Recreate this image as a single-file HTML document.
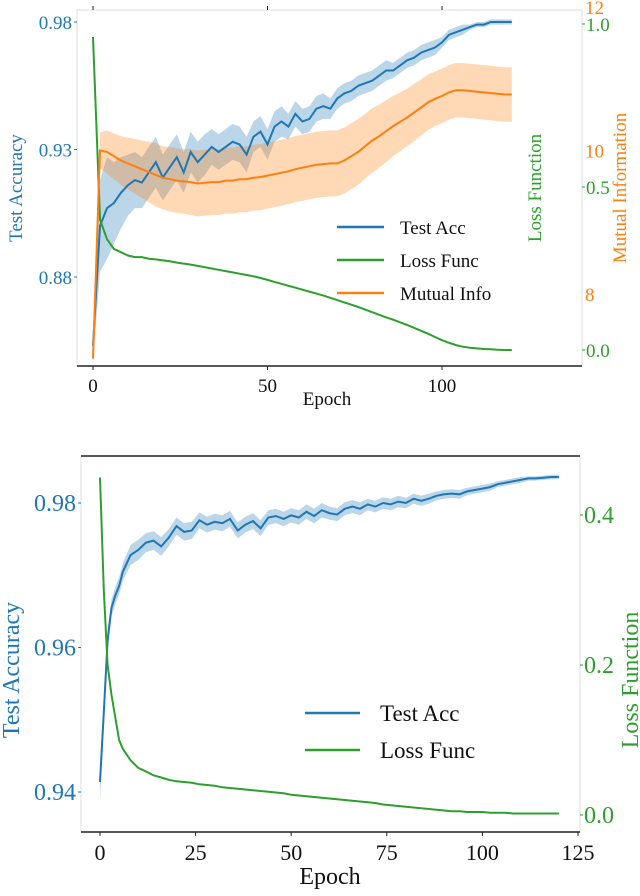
<!DOCTYPE html>
<html><head><meta charset="utf-8"><style>
body{margin:0;background:#fff;}
svg, svg text{font-family:"Liberation Serif",serif;}
</style></head><body>
<svg width="640" height="891" viewBox="0 0 640 891" font-family="Liberation Serif, serif">
<g id="top"></g>
<g id="bot"></g>
</svg>
<script>
// ---------- Top chart data ----------
const topEpochs = [0,2,4,6,8,10,12,14,16,18,20,22,24,26,28,30,32,34,36,38,40,42,44,46,48,50,52,54,56,58,60,62,64,66,68,70,72,74,76,78,80,82,84,86,88,90,92,94,96,98,100,102,104,106,108,110,112,114,116,118,120];
const topAcc = [0.853,0.900,0.907,0.909,0.913,0.916,0.918,0.917,0.921,0.925,0.919,0.923,0.927,0.921,0.929,0.925,0.928,0.931,0.929,0.931,0.933,0.932,0.928,0.935,0.937,0.932,0.939,0.941,0.939,0.944,0.941,0.942,0.946,0.947,0.946,0.950,0.952,0.953,0.955,0.956,0.957,0.959,0.961,0.961,0.963,0.965,0.966,0.968,0.969,0.970,0.972,0.975,0.976,0.977,0.978,0.979,0.979,0.980,0.980,0.980,0.980];
const topAccErr = [0.006,0.018,0.020,0.016,0.014,0.012,0.011,0.010,0.010,0.010,0.009,0.009,0.009,0.008,0.008,0.008,0.008,0.007,0.007,0.007,0.007,0.007,0.007,0.006,0.006,0.006,0.006,0.006,0.005,0.005,0.005,0.005,0.005,0.005,0.004,0.004,0.004,0.004,0.004,0.004,0.004,0.004,0.004,0.003,0.003,0.003,0.003,0.003,0.003,0.003,0.002,0.002,0.002,0.002,0.001,0.001,0.001,0.001,0.001,0.001,0.001];
const topLoss = [0.96,0.40,0.34,0.31,0.30,0.29,0.285,0.285,0.28,0.278,0.275,0.272,0.268,0.265,0.262,0.258,0.254,0.250,0.246,0.242,0.238,0.234,0.230,0.226,0.221,0.215,0.209,0.203,0.197,0.191,0.185,0.179,0.173,0.167,0.160,0.153,0.146,0.139,0.132,0.124,0.116,0.108,0.100,0.093,0.085,0.077,0.068,0.059,0.050,0.040,0.030,0.022,0.015,0.010,0.007,0.005,0.003,0.002,0.001,0.000,0.000];
const topMI = [7.1,10.0,9.98,9.92,9.86,9.82,9.78,9.74,9.70,9.66,9.62,9.60,9.58,9.57,9.56,9.54,9.55,9.56,9.56,9.58,9.58,9.60,9.60,9.62,9.63,9.65,9.67,9.69,9.71,9.74,9.76,9.78,9.80,9.81,9.82,9.82,9.86,9.92,9.98,10.06,10.14,10.20,10.27,10.34,10.40,10.46,10.53,10.60,10.67,10.72,10.76,10.81,10.84,10.84,10.83,10.82,10.81,10.80,10.79,10.78,10.78];
const topMIErr = [0.1,0.25,0.3,0.32,0.34,0.36,0.38,0.4,0.42,0.44,0.44,0.45,0.45,0.45,0.46,0.46,0.46,0.46,0.46,0.46,0.46,0.46,0.46,0.46,0.46,0.46,0.46,0.46,0.46,0.46,0.46,0.46,0.46,0.46,0.46,0.46,0.46,0.46,0.46,0.45,0.45,0.44,0.43,0.42,0.41,0.40,0.40,0.39,0.39,0.38,0.38,0.38,0.38,0.38,0.38,0.38,0.38,0.38,0.38,0.38,0.38];
const topXTicks = [0,50,100];
const topAccTicks = [0.88,0.93,0.98];
const topLossTicks = [0.0,0.5,1.0];
const topMITicks = [8,10,12];

// ---------- Bottom chart data ----------
const botEpochs = [0,1,2,3,4,5,6,8,10,12,14,16,18,20,22,24,26,28,30,32,34,36,38,40,42,44,46,48,50,52,54,56,58,60,62,64,66,68,70,72,74,76,78,80,82,84,86,88,90,92,94,96,98,100,102,104,106,108,110,112,114,116,118,120];
const botAcc = [0.9414,0.951,0.961,0.9655,0.9672,0.9685,0.9705,0.9728,0.9735,0.9745,0.9748,0.9740,0.9752,0.9768,0.9760,0.9762,0.9776,0.9770,0.9774,0.9772,0.9778,0.9762,0.9770,0.9775,0.9765,0.9780,0.9782,0.9778,0.9783,0.9780,0.9788,0.9782,0.9790,0.9786,0.9784,0.9792,0.9795,0.9792,0.9798,0.9795,0.9800,0.9798,0.9802,0.9800,0.9806,0.9803,0.9806,0.9810,0.9812,0.9813,0.9812,0.9816,0.9818,0.9820,0.9822,0.9826,0.9828,0.9830,0.9832,0.9834,0.9834,0.9835,0.9836,0.9836];
const botAccErr = [0.0025,0.002,0.0015,0.0012,0.0012,0.0012,0.0012,0.0014,0.0014,0.0013,0.0013,0.0013,0.0012,0.0012,0.0012,0.0012,0.0011,0.0011,0.0011,0.0011,0.0011,0.0011,0.0011,0.0011,0.0011,0.0010,0.0010,0.0010,0.0010,0.0010,0.0010,0.0010,0.0010,0.0009,0.0009,0.0009,0.0009,0.0009,0.0008,0.0008,0.0008,0.0008,0.0008,0.0007,0.0007,0.0007,0.0007,0.0006,0.0006,0.0006,0.0006,0.0005,0.0005,0.0005,0.0005,0.0004,0.0004,0.0004,0.0004,0.0003,0.0003,0.0003,0.0003,0.0003];
const botLoss = [0.45,0.30,0.20,0.16,0.13,0.10,0.088,0.073,0.063,0.058,0.053,0.050,0.047,0.045,0.044,0.043,0.041,0.040,0.039,0.037,0.036,0.035,0.034,0.033,0.032,0.031,0.030,0.029,0.027,0.026,0.025,0.024,0.023,0.022,0.021,0.020,0.019,0.018,0.017,0.016,0.014,0.013,0.012,0.011,0.010,0.009,0.008,0.007,0.006,0.005,0.005,0.004,0.004,0.004,0.003,0.003,0.003,0.002,0.002,0.002,0.002,0.002,0.002,0.002];
const botXTicks = [0,25,50,75,100,125];
const botAccTicks = [0.94,0.96,0.98];
const botLossTicks = [0.0,0.2,0.4];

const NS='http://www.w3.org/2000/svg';
const FF='Liberation Serif, serif';
function mk(parent,tag,attrs,text){const e=document.createElementNS(NS,tag);for(const k in attrs)e.setAttribute(k,attrs[k]);if(text!==undefined){e.setAttribute('font-family',FF);e.style.fontFamily='"Liberation Serif", serif';e.textContent=text;}parent.appendChild(e);return e;}
function lin(d0,d1,r0,r1){return v=>r0+(v-d0)/(d1-d0)*(r1-r0);}
function pathOf(xs,ys,sx,sy){return xs.map((x,i)=>(i?'L':'M')+sx(x).toFixed(1)+','+sy(ys[i]).toFixed(1)).join('');}
function bandOf(xs,ys,es,sx,sy){let d=xs.map((x,i)=>(i?'L':'M')+sx(x).toFixed(1)+','+sy(ys[i]+es[i]).toFixed(1)).join('');for(let i=xs.length-1;i>=0;i--)d+='L'+sx(xs[i]).toFixed(1)+','+sy(ys[i]-es[i]).toFixed(1);return d+'Z';}
const BLUE='#1f77b4',GREEN='#2ca02c',ORANGE='#ff7f0e';

// ---------- Top chart ----------
(function(){
const g=document.getElementById('top');
const L=77,R=582,T=10,B=366;
const x=lin(0,100,93,442);
const ya=lin(0.88,0.98,277,22);
const yl=lin(0,1,350,24);
const ym=lin(8,12,294,7);
let e=mk(g,'rect',{x:L,y:T,width:R-L,height:B-T,fill:'none',stroke:'#ddd','stroke-width':1});

e=mk(g,'line',{x1:L,y1:B,x2:R,y2:B,stroke:'#222','stroke-width':1.5});

topXTicks.forEach(t=>{
 mk(g,'line',{x1:x(t),y1:B,x2:x(t),y2:B+4,stroke:'#222'});
 mk(g,'line',{x1:x(t),y1:T,x2:x(t),y2:T-4,stroke:'#222'});
 e=mk(g,'text',{x:x(t),y:B+26,'text-anchor':'middle','font-size':19,fill:'#111'},String(t));
 
});
topAccTicks.forEach(t=>{mk(g,'line',{x1:L-3,y1:ya(t),x2:L,y2:ya(t),stroke:BLUE});
 e=mk(g,'text',{x:L-5,y:ya(t)+7,'text-anchor':'end','font-size':19,fill:BLUE},t.toFixed(2));
 });
topLossTicks.forEach(t=>{mk(g,'line',{x1:R,y1:yl(t),x2:R+3,y2:yl(t),stroke:GREEN});
 e=mk(g,'text',{x:R+4,y:yl(t)+7,'font-size':19,fill:GREEN},t.toFixed(1));
 });
topMITicks.forEach(t=>{
 e=mk(g,'text',{x:585,y:ym(t)+7,'font-size':19,fill:ORANGE},String(t));
 });
e=mk(g,'path',{d:bandOf(topEpochs,topAcc,topAccErr,x,ya),fill:BLUE,'fill-opacity':0.3});

e=mk(g,'path',{d:bandOf(topEpochs,topMI,topMIErr,x,ym),fill:ORANGE,'fill-opacity':0.3});

e=mk(g,'path',{d:pathOf(topEpochs,topAcc,x,ya),fill:'none',stroke:BLUE,'stroke-width':2});

e=mk(g,'path',{d:pathOf(topEpochs,topLoss,x,yl),fill:'none',stroke:GREEN,'stroke-width':2});

e=mk(g,'path',{d:pathOf(topEpochs,topMI,x,ym),fill:'none',stroke:ORANGE,'stroke-width':2});

e=mk(g,'text',{x:327,y:405,'text-anchor':'middle','font-size':19,fill:'#111'},'Epoch');

e=mk(g,'text',{x:0,y:0,'text-anchor':'middle','font-size':19,fill:BLUE,transform:'translate(22,188) rotate(-90)'},'Test Accuracy');

e=mk(g,'text',{x:0,y:0,'text-anchor':'middle','font-size':19,fill:GREEN,transform:'translate(541,188) rotate(-90)'},'Loss Function');

e=mk(g,'text',{x:0,y:0,'text-anchor':'middle','font-size':19,fill:ORANGE,transform:'translate(626,188) rotate(-90)'},'Mutual Information');

[['Test Acc',BLUE,234],['Loss Func',GREEN,267],['Mutual Info',ORANGE,300]].forEach(([t,c,yy])=>{
 const lg=mk(g,'g',{});
 
 mk(lg,'line',{x1:337,y1:yy-7,x2:384,y2:yy-7,stroke:c,'stroke-width':2.5});
 mk(lg,'text',{x:400,y:yy,'font-size':19,fill:'#111'},t);
});
})();

// ---------- Bottom chart ----------
(function(){
const g=document.getElementById('bot');
const L=81,R=580,T=456,B=832;
const x=lin(0,125,100,578);
const ya=lin(0.94,0.98,792,503);
const yl=lin(0,0.4,815,515);
let e=mk(g,'rect',{x:L,y:T,width:R-L,height:B-T,fill:'none',stroke:'#ddd','stroke-width':1});

e=mk(g,'line',{x1:L,y1:B,x2:R,y2:B,stroke:'#222','stroke-width':1.5});

e=mk(g,'line',{x1:L,y1:T,x2:R,y2:T,stroke:'#222','stroke-width':1.5});

botXTicks.forEach(t=>{mk(g,'line',{x1:x(t),y1:B,x2:x(t),y2:B+4,stroke:'#222'});
 e=mk(g,'text',{x:x(t),y:B+28,'text-anchor':'middle','font-size':22,fill:'#111'},String(t));
 });
botAccTicks.forEach(t=>{mk(g,'line',{x1:L-3,y1:ya(t),x2:L,y2:ya(t),stroke:BLUE});
 e=mk(g,'text',{x:L-5,y:ya(t)+8,'text-anchor':'end','font-size':24,fill:BLUE},t.toFixed(2));
 });
botLossTicks.forEach(t=>{mk(g,'line',{x1:R,y1:yl(t),x2:R+3,y2:yl(t),stroke:GREEN});
 e=mk(g,'text',{x:R+4,y:yl(t)+8,'font-size':24,fill:GREEN},t.toFixed(1));
 });
e=mk(g,'path',{d:bandOf(botEpochs,botAcc,botAccErr,x,ya),fill:BLUE,'fill-opacity':0.3});

e=mk(g,'path',{d:pathOf(botEpochs,botAcc,x,ya),fill:'none',stroke:BLUE,'stroke-width':2});

e=mk(g,'path',{d:pathOf(botEpochs,botLoss,x,yl),fill:'none',stroke:GREEN,'stroke-width':2});

e=mk(g,'text',{x:330,y:884,'text-anchor':'middle','font-size':24,fill:'#111'},'Epoch');

e=mk(g,'text',{x:0,y:0,'text-anchor':'middle','font-size':24,fill:BLUE,transform:'translate(19,670) rotate(-90)'},'Test Accuracy');

e=mk(g,'text',{x:0,y:0,'text-anchor':'middle','font-size':24,fill:GREEN,transform:'translate(638,680) rotate(-90)'},'Loss Function');

[['Test Acc',BLUE,721],['Loss Func',GREEN,758]].forEach(([t,c,yy])=>{
 const lg=mk(g,'g',{});
 
 mk(lg,'line',{x1:305,y1:yy-8,x2:360,y2:yy-8,stroke:c,'stroke-width':2.5});
 mk(lg,'text',{x:380,y:yy,'font-size':23,fill:'#111'},t);
});
})();
</script>
</body></html>
